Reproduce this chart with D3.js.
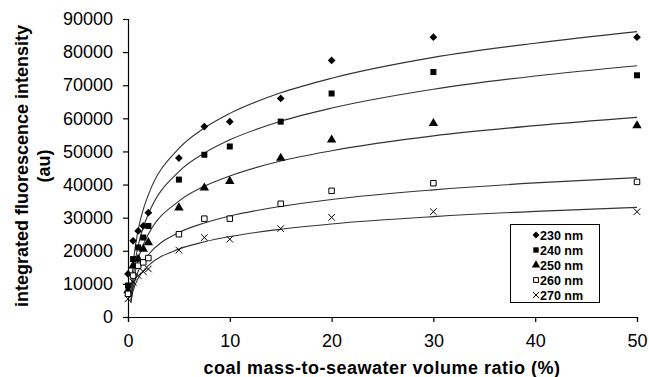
<!DOCTYPE html>
<html>
<head>
<meta charset="utf-8">
<script src="https://cdn.jsdelivr.net/npm/d3@7"></script>
<style>
  body { margin: 0; background: #fff; }
  text { font-family: "Liberation Sans", Arial, sans-serif; }
</style>
</head>
<body>
<script>
// measured points
const ratio = [0, 0.5, 1, 1.5, 2, 5, 7.5, 10, 15, 20, 30, 50];
const nm230 = [13000, 23000, 26000, 27500, 31500, 48000, 57500, 59000, 66000, 77500, 84500, 84500];
const nm240 = [9500, 17500, 21000, 24000, 27500, 41500, 49000, 51500, 59000, 67500, 74000, 73000];
const nm250 = [8000, 15500, 17500, 20500, 22500, 33000, 39000, 41000, 48000, 53500, 58500, 57800];
const nm260 = [7000, 12500, 15500, 16500, 17800, 25000, 29700, 29700, 34200, 38100, 40400, 40800];
const nm270 = [5500, 10500, 12500, 13700, 14500, 20200, 24000, 23500, 26700, 30100, 31800, 31800];

// fitted curves
const fitRatio = [0.3, 0.5, 1, 1.5, 2, 5, 7.5, 10, 15, 20, 30, 40, 50];
const fit230 = [7900, 15700, 26300, 32500, 36900, 50900, 57100, 61500, 67700, 72100, 78400, 82700, 86200];
const fit240 = [4800, 11900, 21500, 27100, 31100, 43900, 49500, 53500, 59100, 63100, 68800, 72800, 75900];
const fit250 = [4200, 9800, 17400, 21800, 25000, 35000, 39500, 42600, 47100, 50200, 54700, 57800, 60300];
const fit260 = [5100, 8800, 13800, 16700, 18800, 25500, 28400, 30500, 33400, 35500, 38400, 40500, 42100];
const fit270 = [5100, 7900, 11700, 13900, 15500, 20500, 22700, 24300, 26500, 28100, 30300, 31900, 33100];

const labels = ["230 nm", "240 nm", "250 nm", "260 nm", "270 nm"];
const xTicks = [0, 10, 20, 30, 40, 50];
const yTicks = [0, 10000, 20000, 30000, 40000, 50000, 60000, 70000, 80000, 90000];

let width = 649;
let height = 377;
let marginTop = 19;
let marginLeft = 128;
let marginRight = 12;
let marginBottom = 60;

const svg = d3.select("body").append("svg")
    .attr("width", width)
    .attr("height", height);

const chartWidth = width - marginLeft - marginRight;
const chartHeight = height - marginTop - marginBottom;

const xScale = d3.scaleLinear().domain([0, 50]).range([0, chartWidth]);
const yScale = d3.scaleLinear().domain([0, 90000]).range([chartHeight, 0]);

const g = svg.append("g")
    .attr("transform", "translate(" + marginLeft + "," + marginTop + ")");

// axes
const xAxis = g.append("g")
    .attr("transform", "translate(0," + chartHeight + ")")
    .call(d3.axisBottom(xScale).tickValues(xTicks).tickSize(5).tickPadding(12).tickFormat(d3.format("d")));
xAxis.selectAll("text")
    .attr("font-size", "18px")
    .attr("fill", "#000")
    .attr("font-family", "Liberation Sans, Arial");

const yAxis = g.append("g")
    .call(d3.axisLeft(yScale).tickValues(yTicks).tickSize(5).tickPadding(10).tickFormat(d3.format("d")));
yAxis.selectAll("text")
    .attr("font-size", "18px")
    .attr("fill", "#000")
    .attr("font-family", "Liberation Sans, Arial");

[xAxis, yAxis].forEach(ax => {
    ax.select(".domain").attr("stroke", "#000").attr("stroke-width", 1.2);
    ax.selectAll(".tick line").attr("stroke", "#000").attr("stroke-width", 1.2);
});

// axis titles
svg.append("text")
    .attr("x", 382)
    .attr("y", 374)
    .attr("text-anchor", "middle")
    .attr("font-size", "18px")
    .attr("font-weight", "bold")
    .attr("letter-spacing", "0.5px")
    .text("coal mass-to-seawater volume ratio (%)");

const yTitle = svg.append("text")
    .attr("transform", "translate(28,166) rotate(-90)")
    .attr("text-anchor", "middle")
    .attr("font-size", "18px")
    .attr("font-weight", "bold");
yTitle.append("tspan").attr("x", 0).attr("dy", 0).text("integrated fluorescence intensity");
yTitle.append("tspan").attr("x", 0).attr("dy", 22).text("(au)");

// fit curves
const fits = [fit230, fit240, fit250, fit260, fit270];
const line = d3.line()
    .x(d => xScale(d[0]))
    .y(d => yScale(d[1]))
    .curve(d3.curveMonotoneX);

fits.forEach(f => {
    g.append("path")
        .datum(fitRatio.map((x, i) => [x, f[i]]))
        .attr("fill", "none")
        .attr("stroke", "#333")
        .attr("stroke-width", 1.1)
        .attr("d", line);
});

// markers
const xSym = d3.symbolX || {
    draw(ctx, size) {
        const r = Math.sqrt(size + Math.min(size / 7, 2)) * 0.4;
        ctx.moveTo(-r, -r); ctx.lineTo(r, r);
        ctx.moveTo(-r, r); ctx.lineTo(r, -r);
    }
};
const styles = [
    { type: d3.symbolSquare, size: 30, fill: "#000", stroke: "none", rot: 45 },
    { type: d3.symbolSquare, size: 36, fill: "#000", stroke: "none", rot: 0 },
    { type: d3.symbolTriangle, size: 38, fill: "#000", stroke: "none", rot: 0 },
    { type: d3.symbolSquare, size: 30, fill: "#fff", stroke: "#000", rot: 0 },
    { type: xSym, size: 30, fill: "none", stroke: "#000", rot: 0 }
];
const series = [nm230, nm240, nm250, nm260, nm270];

series.forEach((s, k) => {
    const st = styles[k];
    g.append("g").selectAll("path")
        .data(ratio.map((x, i) => [x, s[i]]))
        .join("path")
        .attr("transform", d => "translate(" + xScale(d[0]) + "," + yScale(d[1]) + ") rotate(" + st.rot + ")")
        .attr("d", d3.symbol().type(st.type).size(st.size))
        .attr("fill", st.fill)
        .attr("stroke", st.stroke)
        .attr("stroke-width", 1);
});

// legend
const legend = svg.append("g").attr("transform", "translate(510,224)");
legend.append("rect")
    .attr("x", 0.5).attr("y", 0.5)
    .attr("width", 89).attr("height", 78)
    .attr("fill", "#fff")
    .attr("stroke", "#000");

labels.forEach((lab, k) => {
    const st = styles[k];
    const yy = 11 + k * 15;
    legend.append("path")
        .attr("transform", "translate(26," + yy + ") rotate(" + st.rot + ")")
        .attr("d", d3.symbol().type(st.type).size(st.size * 0.8))
        .attr("fill", st.fill)
        .attr("stroke", st.stroke);
    legend.append("text")
        .attr("x", 30)
        .attr("y", yy + 4.5)
        .attr("font-size", "12.5px")
        .attr("font-weight", "bold")
        .text(lab);
});
</script>
</body>
</html>
